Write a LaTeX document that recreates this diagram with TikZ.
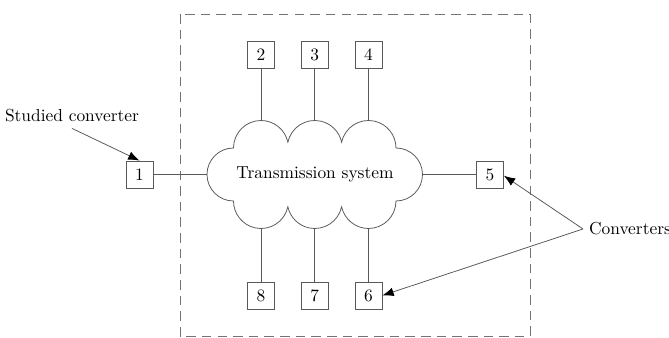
\documentclass[tikz,border=0pt]{standalone}
\usetikzlibrary{arrows.meta}
\begin{document}
\begin{tikzpicture}[x=0.575pt,y=0.575pt,
  line/.style={draw=black!65, line width=0.45pt},
  box/.style={draw=black!65, line width=0.45pt, minimum size=15.5pt, inner sep=0pt},
  lbl/.style={inner sep=3.3pt},
  arr/.style={line, -{Latex[length=6.5pt,width=5pt,color=black]}}]
\useasboundingbox (0,0) rectangle (669,338);
\def\R{15.81pt}\def\S{15.24pt}
% dashed boundary
\draw[draw=black!55, line width=0.5pt, dash pattern=on 5.5pt off 3.5pt] (180,324) rectangle (530,1.5);
% cloud
\draw[line] (233.5,190)
  arc[start angle=180, end angle=12.2, radius=\R]
  arc[start angle=167.8, end angle=12.2, radius=\R]
  arc[start angle=167.8, end angle=0, radius=\R]
  arc[start angle=90, end angle=-90, radius=\S]
  arc[start angle=0, end angle=-167.8, radius=\R]
  arc[start angle=-12.2, end angle=-167.8, radius=\R]
  arc[start angle=-12.2, end angle=-180, radius=\R]
  arc[start angle=270, end angle=90, radius=\S] -- cycle;
\node (ts) at (315,163.5) {Transmission system};
% cloud contact points
\coordinate (ct2) at (261,217.5);
\coordinate (ct3) at (314.75,217.5);
\coordinate (ct4) at (368.5,217.5);
\coordinate (cb8) at (261,109.5);
\coordinate (cb7) at (314.75,109.5);
\coordinate (cb6) at (368.5,109.5);
\coordinate (cl) at (207,163.5);
\coordinate (cr) at (422.5,163.5);
% converters
\node[box] (n1) at (139.5,163.5) {1};
\node[box] (n5) at (490,163.5) {5};
\node[box] (n2) at (261,283.5) {2};
\node[box] (n3) at (314.75,283.5) {3};
\node[box] (n4) at (368.5,283.5) {4};
\node[box] (n8) at (261,42.5) {8};
\node[box] (n7) at (314.75,42.5) {7};
\node[box] (n6) at (368.5,42.5) {6};
% connections
\draw[line] (n1.east) -- (cl);
\draw[line] (cr) -- (n5.west);
\draw[line] (n2.south) -- (ct2);
\draw[line] (n3.south) -- (ct3);
\draw[line] (n4.south) -- (ct4);
\draw[line] (n8.north) -- (cb8);
\draw[line] (n7.north) -- (cb7);
\draw[line] (n6.north) -- (cb6);
% labels
\node[lbl] (sc) at (72,222) {Studied converter};
\node[lbl] (cv) at (630,109) {Converters};
\draw[arr] (sc.south) -- (n1.north);
\draw[arr] (cv.west) -- (n5.-5);
\draw[arr] (cv.west) -- (n6.east);
\end{tikzpicture}
\end{document}
